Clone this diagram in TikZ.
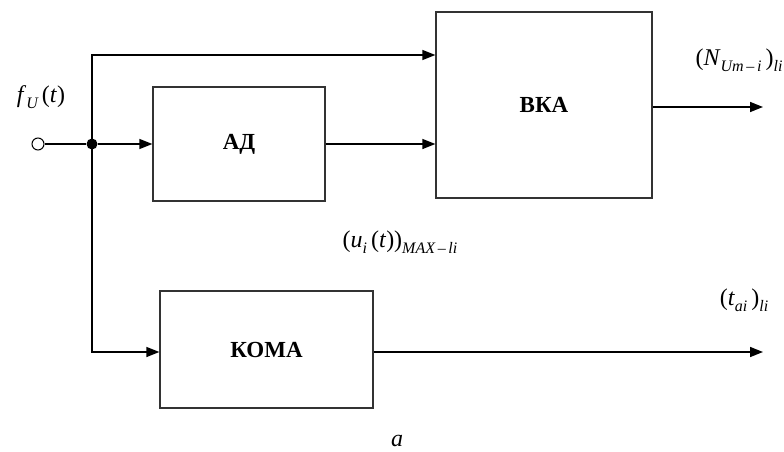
\documentclass[tikz,border=0pt]{standalone}
\usepackage{fontspec}
\setmainfont{Liberation Serif}
\usetikzlibrary{arrows.meta}
% italic subscript set in running text
\newcommand{\lowidx}[1]{\raisebox{-0.55ex}{\fontsize{16}{16}\selectfont\itshape #1}}
\begin{document}
\begin{tikzpicture}[x=1pt,y=-1pt,
  blk/.style={draw=black!80, line width=1.3pt, rectangle, inner sep=0pt,
    font=\fontsize{23}{23}\selectfont\bfseries},
  wire/.style={line width=1.5pt, draw=black},
  arr/.style={wire, -{Triangle[length=13pt,width=10pt]}},
  lbl/.style={font=\fontsize{24}{24}\selectfont, inner sep=0pt}]
  \useasboundingbox (0,0) rectangle (784,452);

  % blocks
  \node[blk, minimum width=172pt, minimum height=114pt] (ad) at (239,144) {АД};
  \node[blk, minimum width=216pt, minimum height=186pt] (vka) at (544,105) {ВКА};
  \node[blk, minimum width=213pt, minimum height=117pt] (koma) at (266.5,349.5) {КОМА};

  % input terminal and branch point
  \node[circle, draw, line width=1pt, minimum size=12pt, inner sep=0pt] (in) at (38,144) {};
  \node[circle, fill=black, minimum size=11pt, inner sep=0pt] (j) at (92,144) {};

  % helper points
  \coordinate (top) at (92,55);
  \coordinate (bot) at (92,352);
  \coordinate (out1) at (763,107);
  \coordinate (out2) at (763,352);

  % connections
  \draw[wire] (in) -- (j);
  \draw[arr] (j) -- (ad.west);
  \draw[arr] (j.center) -- (top) -- (vka.west |- top);
  \draw[arr] (ad.east) -- (vka.west |- ad.east);
  \draw[arr] (j.center) -- (bot) -- (koma.west |- bot);
  \draw[arr] (vka.east |- out1) -- (out1);
  \draw[arr] (koma.east |- out2) -- (out2);

  % signal labels
  \node[lbl] (lf) at (41,97) {\textit{f}\lowidx{U}\,(\textit{t})};
  \node[lbl] (ln) at (739,60) {(\textit{N}\lowidx{Um\,–\,i}\,)\lowidx{li}};
  \node[lbl] (lu) at (400,242) {(\textit{u}\lowidx{i}\,(\textit{t}))\lowidx{MAX\,–\,li}};
  \node[lbl] (lt) at (744,300) {(\textit{t}\lowidx{ai}\,)\lowidx{li}};
  \node[lbl] (la) at (397,441) {\textit{a}};
\end{tikzpicture}
\end{document}
